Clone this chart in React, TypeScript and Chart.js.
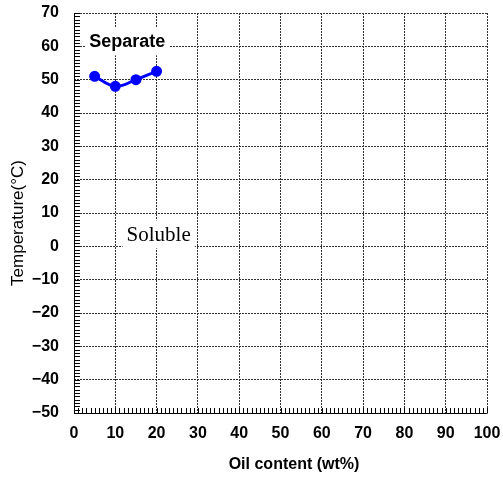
import React, { useEffect, useRef } from "react";
import { Chart, registerables } from "chart.js";

Chart.register(...registerables);

const oilContent = [5, 10, 15, 20];
const temperature = [51, 48, 50, 52.5];
const xTickValues = [0, 10, 20, 30, 40, 50, 60, 70, 80, 90, 100];
const yTickValues = [-50, -40, -30, -20, -10, 0, 10, 20, 30, 40, 50, 60, 70];
const regionLabels = [
  { text: "Separate", x: 12.9, y: 61.5 },
  { text: "Soluble", x: 20.5, y: 3.6 },
];

const decorPlugin = {
  id: "decor",
  beforeDatasetsDraw(chart: any) {
    const { ctx, chartArea: a, scales } = chart;
    const xs = scales.x;
    const ys = scales.y;
    ctx.save();
    ctx.strokeStyle = "#000";
    ctx.lineWidth = 1;
    ctx.beginPath();
    for (let v = -50; v <= 70; v += 1) {
      const py = Math.round(ys.getPixelForValue(v)) + 0.5;
      ctx.moveTo(a.left, py);
      ctx.lineTo(a.left + 6, py);
    }
    for (let v = 0; v <= 100; v += 1) {
      const px = Math.round(xs.getPixelForValue(v)) + 0.5;
      ctx.moveTo(px, a.bottom);
      ctx.lineTo(px, a.bottom - 5);
    }
    ctx.stroke();
    ctx.beginPath();
    ctx.moveTo(a.left + 0.5, a.top);
    ctx.lineTo(a.left + 0.5, a.bottom + 0.5);
    ctx.lineTo(a.right + 0.5, a.bottom + 0.5);
    ctx.stroke();

    regionLabels.forEach((l, i) => {
      const px = xs.getPixelForValue(l.x);
      const py = ys.getPixelForValue(l.y);
      ctx.font = i === 0 ? "bold 18px 'Liberation Sans', Arial, sans-serif" : "21px 'Liberation Serif', 'Times New Roman', serif";
      const w = ctx.measureText(l.text).width;
      ctx.fillStyle = "#fff";
      ctx.fillRect(px - w / 2 - 4, py - 14, w + 8, 28);
      ctx.fillStyle = "#000";
      ctx.textAlign = "center";
      ctx.textBaseline = "middle";
      ctx.fillText(l.text, px, py + 1);
    });

    ctx.fillStyle = "#000";
    ctx.textAlign = "center";
    ctx.textBaseline = "middle";
    ctx.font = "bold 16px 'Liberation Sans', Arial, sans-serif";
    ctx.fillText("Oil content (wt%)", 294, 465);
    ctx.save();
    ctx.translate(18, 223);
    ctx.rotate(-Math.PI / 2);
    ctx.font = "17px 'Liberation Sans', Arial, sans-serif";
    ctx.fillText("Temperature(°C)", 0, 0);
    ctx.restore();
    ctx.restore();
  },
};

const zeroPad = (s: any) => {
  s.paddingLeft = 0;
  s.paddingRight = 0;
  s.paddingTop = 0;
  s.paddingBottom = 0;
};

export default function App() {
  const ref = useRef<HTMLCanvasElement | null>(null);
  useEffect(() => {
    if (!ref.current) return;
    const chart = new Chart(ref.current, {
      type: "line",
      data: {
        datasets: [
          {
            data: oilContent.map((x, i) => ({ x, y: temperature[i] })),
            borderColor: "#0000ff",
            backgroundColor: "#0000ff",
            borderWidth: 3,
            pointRadius: 4,
            pointHoverRadius: 4,
            tension: 0.4,
            fill: false,
          },
        ],
      },
      options: {
        responsive: false,
        animation: false,
        devicePixelRatio: 1,
        layout: { padding: { top: 13, right: 16, left: 0, bottom: 0 } },
        plugins: { legend: { display: false }, tooltip: { enabled: false } },
        scales: {
          x: {
            type: "linear",
            min: 0,
            max: 100,
            afterFit: (s: any) => { s.height = 64; zeroPad(s); },
            afterBuildTicks: (s: any) => { s.ticks = xTickValues.map((v) => ({ value: v })); },
            ticks: {
              color: "#000",
              font: { family: "'Liberation Sans', Arial, sans-serif", size: 16, weight: "bold" },
              padding: 11,
              maxRotation: 0,
            },
            grid: { color: "#333", lineWidth: 1, drawTicks: false },
            border: { display: false, dash: [2, 1] },
          },
          y: {
            type: "linear",
            min: -50,
            max: 70,
            afterFit: (s: any) => { s.width = 74; zeroPad(s); },
            afterBuildTicks: (s: any) => { s.ticks = yTickValues.map((v) => ({ value: v })); },
            ticks: {
              color: "#000",
              font: { family: "'Liberation Sans', Arial, sans-serif", size: 16, weight: "bold" },
              padding: 15,
              callback: (v: any) => String(v).replace("-", "\u2212"),
            },
            grid: { color: "#333", lineWidth: 1, drawTicks: false },
            border: { display: false, dash: [2, 1] },
          },
        },
      } as any,
      plugins: [decorPlugin],
    });
    return () => chart.destroy();
  }, []);
  return (
    <div style={{ position: "absolute", left: 0, top: 0, width: 503, height: 477, background: "#fff" }}>
      <canvas ref={ref} width={503} height={477} />
    </div>
  );
}
